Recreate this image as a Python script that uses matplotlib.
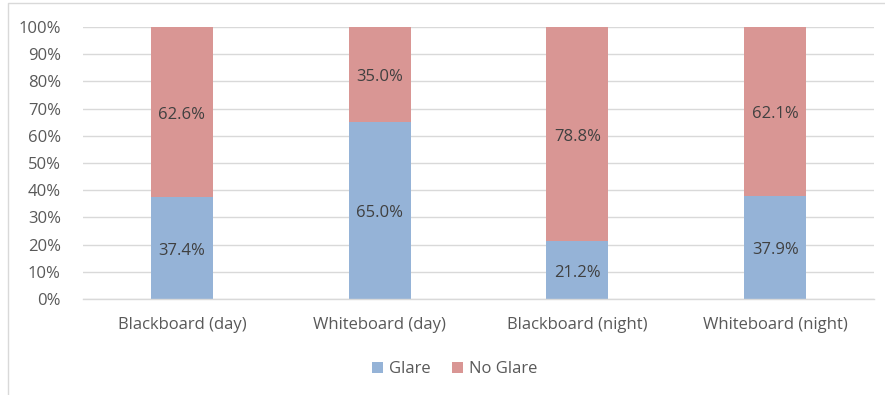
import matplotlib
matplotlib.use("Agg")
import matplotlib.pyplot as plt
from matplotlib.lines import Line2D
from matplotlib.ticker import FuncFormatter
from matplotlib.transforms import offset_copy

# --- Data ---
categories = ["Blackboard (day)", "Whiteboard (day)", "Blackboard (night)", "Whiteboard (night)"]
glare = [37.4, 65.0, 21.2, 37.9]
no_glare = [62.6, 35.0, 78.8, 62.1]

blue = "#95B3D7"
red = "#D99694"
text_col = "#595959"
grid_col = "#D9D9D9"
fs = 12

plt.rcParams["font.family"] = ["Open Sans", "DejaVu Sans"]

fig = plt.figure(figsize=(8.85, 3.95), dpi=100)
ax = fig.add_axes([0.0938, 0.2430, 0.8938, 0.6886])

x = list(range(len(categories)))
w = 0.314
b1 = ax.bar(x, glare, width=w, color=blue, zorder=2, label="Glare")
b2 = ax.bar(x, no_glare, width=w, bottom=glare, color=red, zorder=2, label="No Glare")

# value labels centred in each segment (nudged down a touch)
lab_tr = offset_copy(ax.transData, fig=fig, x=0, y=-2.5, units="dots")
for i in x:
    ax.text(i, glare[i] / 2, f"{glare[i]:.1f}%", ha="center", va="center",
            fontsize=fs, color="#404040", zorder=3, transform=lab_tr)
    ax.text(i, glare[i] + no_glare[i] / 2, f"{no_glare[i]:.1f}%", ha="center", va="center",
            fontsize=fs, color="#404040", zorder=3, transform=lab_tr)

ax.set_xlim(-0.5, len(categories) - 0.5)
ax.set_ylim(0, 100)
ax.set_yticks(range(0, 101, 10))
ax.yaxis.set_major_formatter(FuncFormatter(lambda v, p: f"{int(v)}%"))
ax.set_xticks(x)
ax.set_xticklabels(categories)
ax.tick_params(axis="both", length=0, labelsize=fs, labelcolor=text_col)
ax.tick_params(axis="x", pad=13)
ax.tick_params(axis="y", pad=16)

ax.grid(axis="y", color=grid_col, linewidth=1.0, zorder=0)
for s in ["top", "right", "left"]:
    ax.spines[s].set_visible(False)
ax.spines["bottom"].set_color(grid_col)
ax.spines["bottom"].set_linewidth(1.0)

leg = fig.legend(handles=[b1, b2], loc="center", bbox_to_anchor=(0.514, 0.066), ncol=2,
                 frameon=False, fontsize=fs, handlelength=0.65, handleheight=0.65,
                 handletextpad=0.35, columnspacing=1.3)
for t in leg.get_texts():
    t.set_color(text_col)

# chart border (top and left edges)
bx = 8 / 885
by = 1 - 3 / 395
fig.add_artist(Line2D([bx, bx, 1], [0, by, by], color=grid_col, linewidth=1.0))

fig.savefig("out.png", dpi=100)
